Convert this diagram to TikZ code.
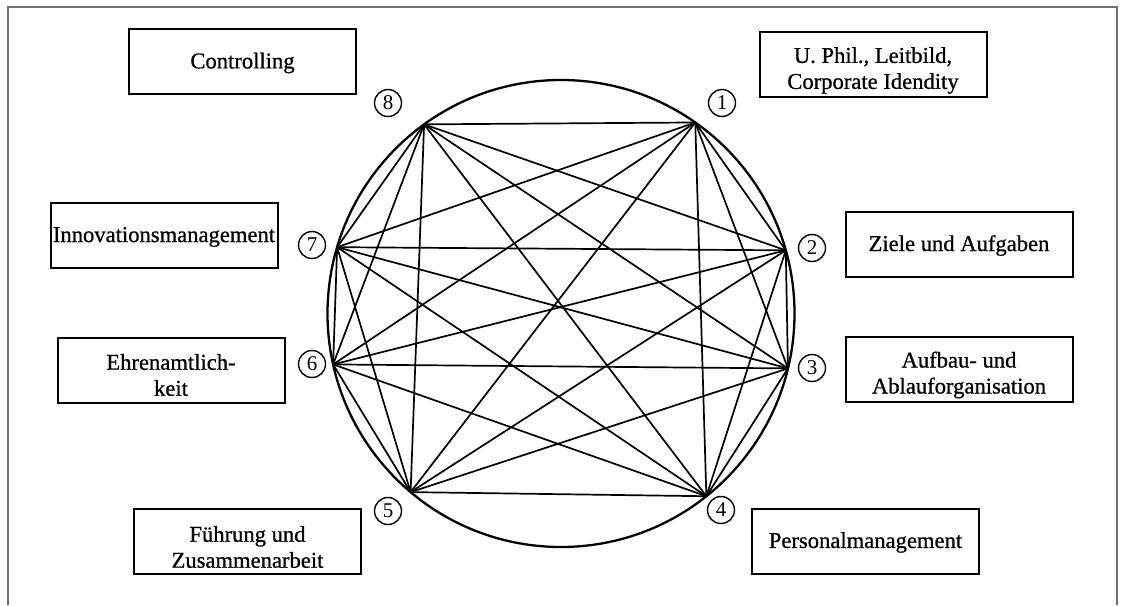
\documentclass[tikz,border=0pt]{standalone}
\usepackage{fontspec}
\setmainfont{Liberation Serif}[BoldFont={Liberation Serif},BoldFeatures={FakeBold=0.8}]
\usetikzlibrary{calc}
\definecolor{framegray}{RGB}{112,112,112}
\begin{document}
\begin{tikzpicture}[x=1pt,y=-1pt,
  box/.style={draw, line width=2pt, minimum width=227pt, minimum height=65pt, inner sep=0pt},
  boxtext/.style={align=center, font=\fontsize{22.6}{26}\selectfont\bfseries, inner sep=0pt},
  num/.style={draw, circle, line width=1.4pt, minimum size=27pt, inner sep=0pt, font=\fontsize{21}{21}\selectfont},
  chord/.style={line width=1.7pt},
  ring/.style={line width=2.3pt},
  frameline/.style={draw=framegray, line width=1.5pt}]
\useasboundingbox (0,0) rectangle (1123,605);
% page frame (open at the bottom)
\draw[frameline] (8,605) -- (8,7) -- (1117,7) -- (1117,605);

% the circle and its eight points
\coordinate (O) at (561,313.5);
\draw[ring] (O) circle[radius=233.5pt];
\foreach \n/\a in {1/-54.9, 2/-15.7, 3/13.6, 4/51.5, 5/130.1, 6/167.4, 7/-163.5, 8/-125.9}
  \coordinate (p\n) at ($(O)+(\a:233.5)$);

% every point joined to every other point
\foreach \i in {1,...,7} {
  \pgfmathtruncatemacro\k{\i+1}
  \foreach \j in {\k,...,8}
    \draw[chord] (p\i) -- (p\j);
}

% numbered markers
\node[num] (n1) at (722,103) {1};
\node[num] (n2) at (812,248) {2};
\node[num] (n3) at (812,368) {3};
\node[num] (n4) at (721,510) {4};
\node[num] (n5) at (388,511) {5};
\node[num] (n6) at (312,364) {6};
\node[num] (n7) at (312,245) {7};
\node[num] (n8) at (388,103) {8};

% labelled boxes
\node[box] (b1) at (873,64.5) {};
\node[boxtext, yshift=-6pt] (t1) at (b1.center) {U. Phil., Leitbild,\\Corporate Idendity};
\node[box] (b2) at (959,244) {};
\node[boxtext, yshift=-1.5pt] (t2) at (b2.center) {Ziele und Aufgaben};
\node[box] (b3) at (959,369) {};
\node[boxtext, yshift=-6pt] (t3) at (b3.center) {Aufbau- und\\Ablauforganisation};
\node[box] (b4) at (865.5,541.5) {};
\node[boxtext, yshift=-1pt] (t4) at (b4.center) {Personalmanagement};
\node[box] (b5) at (247.5,541.5) {};
\node[boxtext, yshift=-5.5pt] (t5) at (b5.center) {Führung und\\Zusammenarbeit};
\node[box] (b6) at (171,370) {};
\node[boxtext, yshift=-5pt] (t6) at (b6.center) {Ehrenamtlich-\\keit};
\node[box] (b7) at (164,235) {};
\node[boxtext, yshift=-2pt] (t7) at (b7.center) {Innovationsmanagement};
\node[box] (b8) at (242.5,61) {};
\node[boxtext, yshift=-2pt] (t8) at (b8.center) {Controlling};
\end{tikzpicture}
\end{document}
